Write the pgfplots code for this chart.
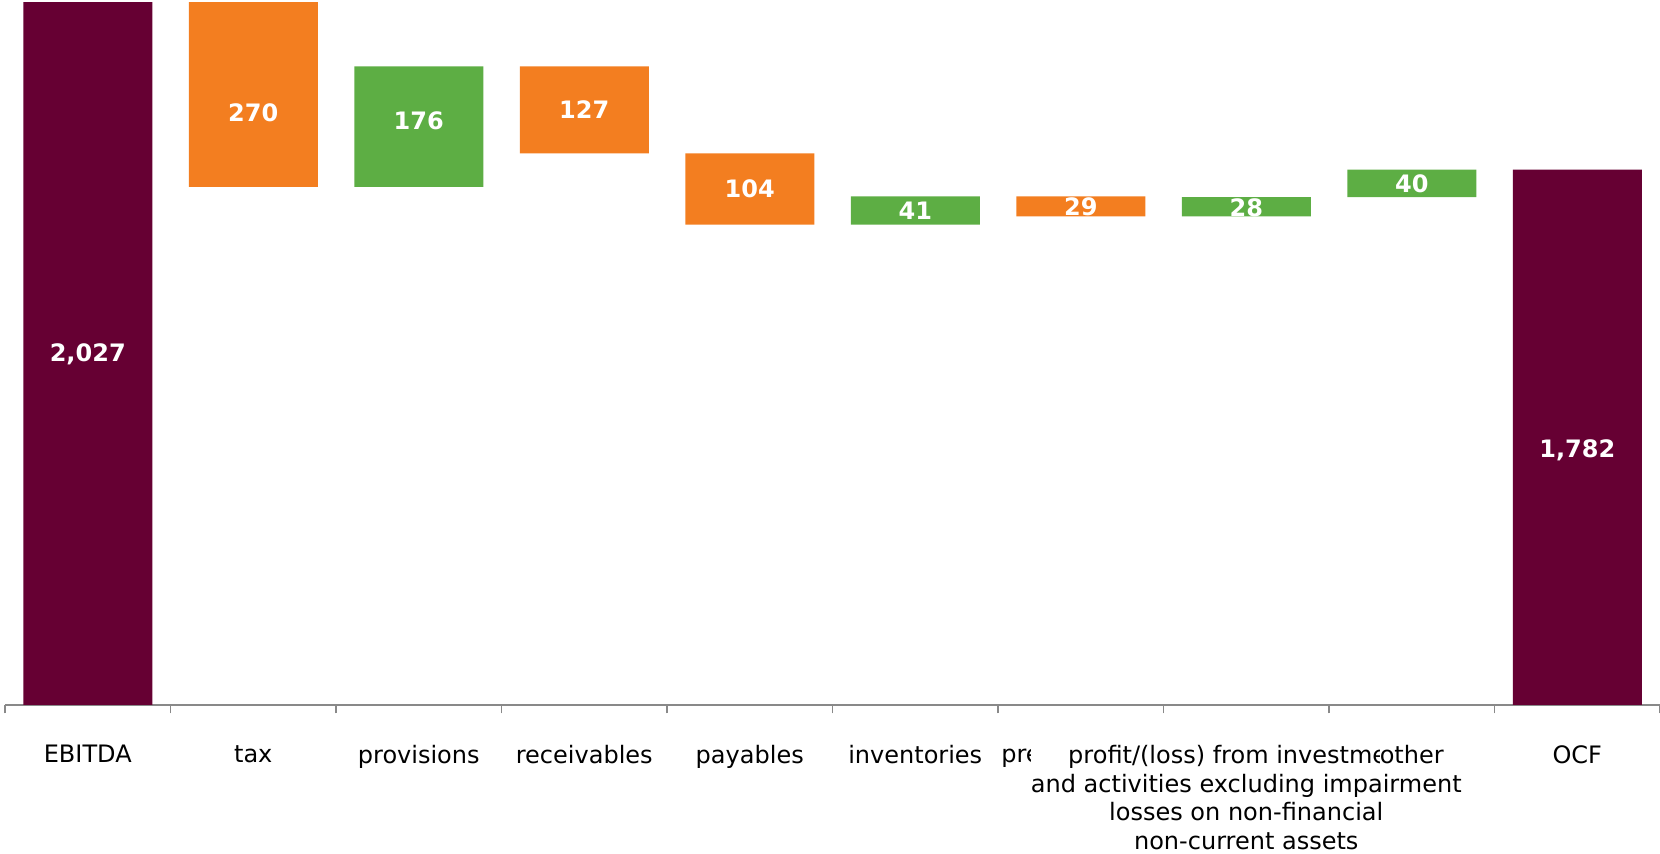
\documentclass[border=0pt]{standalone}
\usepackage{pgfplots}
\usepackage{pgfplotstable}
\pgfplotsset{compat=1.18}
\usepackage{fontspec}
\setmainfont{DejaVu Sans}
\definecolor{tot}{HTML}{660033}
\definecolor{dec}{HTML}{F37E20}
\definecolor{inc}{HTML}{5DAE44}
\definecolor{axgray}{HTML}{898989}

\pgfplotstableread{
x base tot dec inc
0 0    2027 0   0
1 1757 0    270 0
2 1757 0    0   176
3 1806 0    127 0
4 1702 0    104 0
5 1702 0    0   41
6 1714 0    29  0
7 1714 0    0   28
8 1742 0    0   40
9 0    1782 0   0
}\wf

\pgfplotstableread{
x y lab
0 1513 2,027
1 1865 270
2 1854 176
3 1869.5 127
4 1754 104
5 1722.5 41
6 1728.5 29
7 1727 28
8 1762 40
9 1372 1,782
}\labs

\begin{document}
\begin{tikzpicture}
\begin{axis}[
  at={(0,0)}, anchor=south west,
  width=827.5pt, height=352.5pt, scale only axis,
  xmin=-0.5, xmax=9.5, ymin=1000, ymax=2030,
  ybar stacked, bar width=64.5pt,
  axis y line=none, axis x line*=bottom,
  axis line style={axgray, line width=1pt},
  xtick={0,...,9},
  xticklabels={EBITDA, tax, provisions, receivables, payables, inventories, prepayments,
    {profit/(loss) from investments\\and activities excluding impairment\\losses on non-financial\\non-current assets},
    other, OCF},
  minor xtick={-0.5,0.5,...,9.5},
  xtick align=outside,
  major tick length=0pt, minor tick length=4.2pt,
  every minor tick/.style={axgray, line width=0.8pt},
  xticklabel style={font=\fontsize{12}{14.3}\selectfont, align=center, anchor=north,
    fill=white, inner sep=0pt, yshift=-20pt, text=black},
]
\addplot[draw=none, fill=none] table[x=x, y=base] {\wf};
\addplot[draw=none, fill=tot] table[x=x, y=tot] {\wf};
\addplot[draw=none, fill=dec] table[x=x, y=dec] {\wf};
\addplot[draw=none, fill=inc] table[x=x, y=inc] {\wf};
\end{axis}
\begin{axis}[
  at={(0,0)}, anchor=south west,
  width=827.5pt, height=352.5pt, scale only axis,
  xmin=-0.5, xmax=9.5, ymin=1000, ymax=2030,
  hide axis, clip=false,
]
\addplot[draw=none, mark=none, nodes near coords, point meta=explicit symbolic,
  every node near coord/.append style={anchor=center, text=white,
    font=\bfseries\fontsize{12}{14}\selectfont}]
  table[x=x, y=y, meta=lab] {\labs};
\end{axis}
\pgfresetboundingbox
\path (0,0) ++(-2.5pt,-74pt) rectangle (827.5pt,352.5pt);
\end{tikzpicture}
\end{document}
